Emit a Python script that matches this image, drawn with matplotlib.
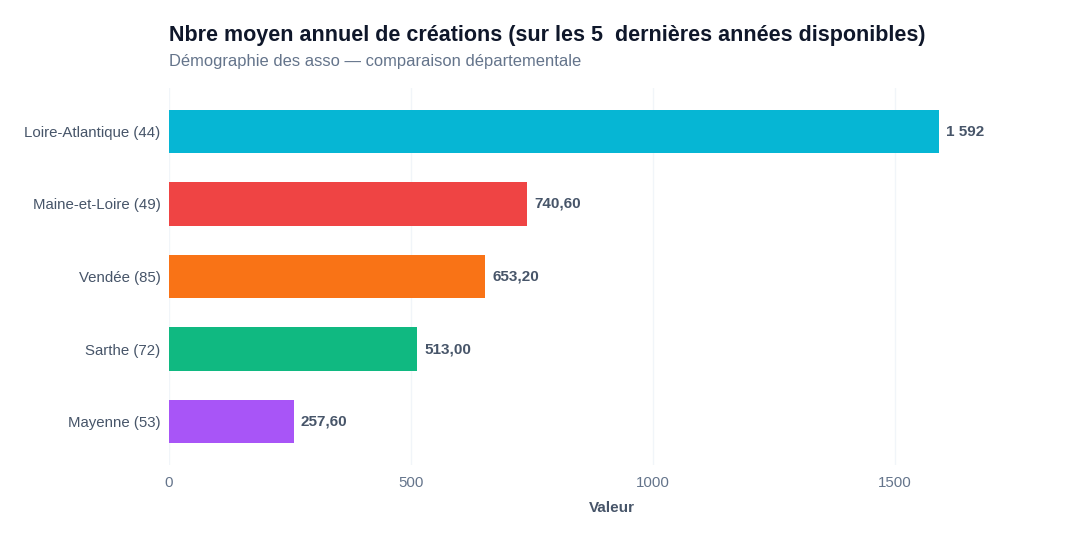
import matplotlib
matplotlib.use("Agg")
import matplotlib.pyplot as plt

plt.rcParams['font.family'] = ['Liberation Sans', 'DejaVu Sans']

categories = ["Loire-Atlantique (44)", "Maine-et-Loire (49)", "Vendée (85)", "Sarthe (72)", "Mayenne (53)"]
values = [1592, 740.60, 653.20, 513.00, 257.60]
labels = ["1 592", "740,60", "653,20", "513,00", "257,60"]
colors = ["#06B6D4", "#EF4444", "#F97316", "#10B981", "#A855F7"]
xticks = [0, 500, 1000, 1500]

fig = plt.figure(figsize=(10.8, 5.4), dpi=100)
ax = fig.add_axes([169/1080, 1-465/540, (1055-169)/1080, (465-88)/540])

y = list(range(len(categories)))
ax.barh(y, values, height=0.6, color=colors, zorder=2)
for yi, v, lab in zip(y, values, labels):
    ax.annotate(lab, (v, yi), xytext=(5, 0), textcoords="offset points",
                ha="left", va="center", fontsize=11, fontweight="bold", color="#475569")

ax.set_ylim(len(categories) - 0.4, -0.6)
ax.set_xlim(0, 1592 * 1.15)
ax.set_yticks(y)
ax.set_yticklabels(categories)
ax.set_xticks(xticks)
ax.set_xticklabels([str(t) for t in xticks])
ax.tick_params(axis="both", length=0, labelsize=10.8, colors="#64748b")
ax.tick_params(axis="y", pad=6, labelcolor="#475569")
ax.tick_params(axis="x", pad=8)
ax.grid(axis="x", color="#f1f5f9", linewidth=1, zorder=0)
for s in ax.spines.values():
    s.set_visible(False)
ax.set_xlabel("Valeur", fontsize=11, fontweight="bold", color="#475569", labelpad=8)

fig.text(169/1080, 1-41/540, "Nbre moyen annuel de créations (sur les 5  dernières années disponibles)",
         fontsize=15.5, fontweight="bold", color="#0f172a", ha="left", va="baseline")
fig.text(169/1080, 1-66/540, "Démographie des asso — comparaison départementale",
         fontsize=11.9, color="#64748b", ha="left", va="baseline")

fig.savefig("out.png", dpi=100, facecolor="white")
